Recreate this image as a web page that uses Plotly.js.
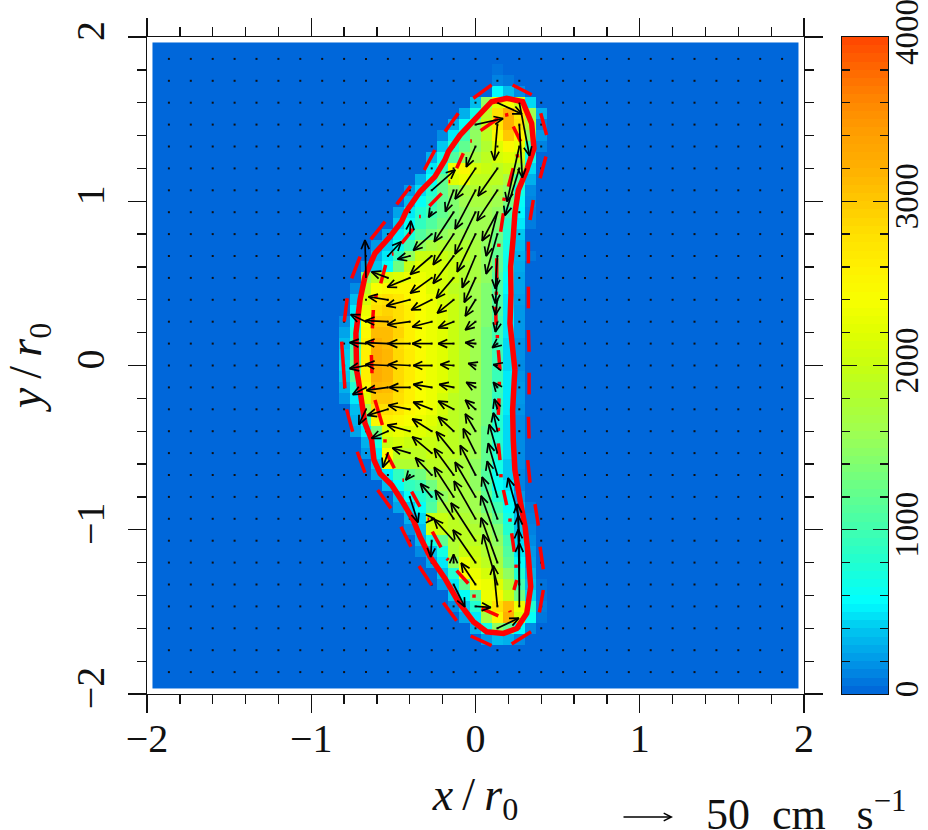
<!DOCTYPE html>
<html>
<head>
<meta charset="utf-8">
<script src="https://cdn.plot.ly/plotly-3.0.1.min.js"></script>
<style>html,body{margin:0;padding:0;background:#fff}</style>
</head>
<body>
<div id="chart" style="width:928px;height:830px"></div>
<script>
// Heat map: each row is [row index j, first column i, values...]; cell centre = index * cellSize
const cellSize = 1 / 15;
const heatBackground = 20;
const heatRowsUpper = [
[27,2,60],
[26,2,120,80],
[25,2,550,350,150],
[24,0,350,1500,2200,2400,2000,450],
[23,-1,300,700,1900,2800,3200,2700,1600,300],
[22,-2,300,600,1400,2000,2700,3200,2800,1800,100],
[21,-3,150,500,1000,1500,1900,2500,3000,2500,1500,200],
[20,-3,400,800,1200,1500,1800,2200,2500,2300,1000,120],
[19,-4,300,650,1100,1500,1700,1900,2100,2200,2000,700],
[18,-4,500,900,2300,2500,2100,2000,1900,2000,1700,450],
[17,-5,300,600,1200,2200,2300,1900,1900,1900,1700,1100,300],
[16,-6,200,450,800,1200,1500,1700,1800,1800,1700,1500,700,150],
[15,-6,350,600,900,1200,1400,1600,1700,1700,1600,1300,600,130],
[14,-7,250,500,800,1000,1200,1400,1500,1600,1600,1500,1000,550,100],
[13,-7,400,600,900,1100,1300,1400,1500,1600,1600,1400,850,500,100],
[12,-8,250,500,750,1100,1300,1500,1600,1600,1600,1600,1300,800,400],
[11,-9,200,400,650,1000,1500,1700,1800,1800,1800,1700,1500,1200,700,350],
[10,-9,300,500,900,1500,2000,2000,2000,1900,1900,1700,1500,1200,650,300,80],
[9,-10,200,400,600,1300,2000,2200,2200,2100,2000,1800,1700,1500,1200,650,280],
[8,-10,1500,1900,2100,2200,2300,2300,2200,2100,2000,1800,1700,1500,1100,600,250],
[7,-11,150,1900,2400,2500,2500,2500,2400,2200,2100,1900,1800,1600,1400,1100,550,250],
[6,-11,350,2100,2700,2800,2700,2500,2400,2300,2100,2000,1800,1600,1400,1100,500,220],
[5,-11,500,2300,2800,2900,2800,2600,2400,2300,2200,2000,1800,1600,1400,1100,500,200],
[4,-12,150,600,2400,3000,3000,2800,2600,2400,2300,2200,2000,1800,1600,1400,1000,500,200],
[3,-12,250,800,2500,3100,3100,2900,2600,2400,2300,2200,2000,1800,1600,1300,1000,500,200],
[2,-12,350,1000,2600,3200,3100,2800,2600,2400,2300,2200,2000,1800,1600,1300,950,450,170],
[1,-12,400,1100,2600,3250,3150,2850,2650,2450,2300,2200,2000,1800,1600,1300,950,450,170],
[0,-12,450,1200,2600,3250,3150,2850,2650,2450,2300,2200,2000,1800,1600,1300,950,450,150]
];
const heatRowsLower = [
[-1,-12,400,1100,2600,3250,3150,2850,2650,2450,2300,2200,2000,1800,1600,1300,950,500,180],
[-2,-12,300,800,2500,3150,3100,2850,2600,2400,2300,2200,2000,1800,1600,1300,950,500,200],
[-3,-12,200,500,2200,3000,3000,2800,2600,2400,2300,2100,1900,1800,1600,1300,900,500,200],
[-4,-11,350,1600,2800,2800,2700,2500,2400,2300,2100,1900,1800,1600,1300,850,500,180],
[-5,-11,300,1000,2500,2600,2500,2400,2300,2200,2000,1900,1800,1600,1300,800,450,150],
[-6,-11,250,500,1300,2200,2300,2200,2200,2100,2000,1900,1800,1600,1200,800,450,150],
[-7,-10,300,700,2000,2100,2000,2000,2000,1900,1900,1800,1600,1200,800,450,150],
[-8,-10,200,500,2400,1900,1900,1900,2000,1900,1900,1800,1600,1200,800,450,150],
[-9,-9,400,2400,1800,1800,1800,1900,1900,1800,1700,1500,1200,700,400,150],
[-10,-9,250,500,900,1200,1300,1600,1800,1800,1700,1500,1100,650,400,130],
[-11,-8,350,600,900,1000,1300,1700,1700,1700,1500,1100,600,500,120],
[-12,-7,350,600,800,1000,1500,1700,1700,1600,1200,800,550,200],
[-13,-7,250,400,600,1100,1700,1700,1700,1600,1300,1000,600,300,80],
[-14,-6,300,450,2000,2000,1900,1800,1700,1500,1200,700,350,100],
[-15,-6,150,350,2100,2000,1900,1900,1800,1600,1400,800,400,120],
[-16,-5,300,700,1200,1800,1900,1900,1700,1500,1000,450,150],
[-17,-5,150,350,700,1800,2000,2000,1800,1600,1100,500,200],
[-18,-4,250,500,1500,2300,2100,1900,1700,1200,600,220],
[-19,-3,350,800,2400,2300,2100,1900,1500,800,300],
[-20,-3,200,500,1200,2400,2300,2200,1800,1000,350,60],
[-21,-2,400,600,1200,2300,2500,2000,1300,450,70],
[-22,-2,150,400,800,2200,2800,3100,2300,800,100],
[-23,-1,250,500,1700,2500,3200,2100,600,80],
[-24,0,300,700,1500,1200,550,150],
[-25,1,200,350,300,150]
];

// Velocity field: [column k, row m, u, v]; tail at index * gridStep, u and v in cm/s
const gridStep = 2 / 15;
const gridIndex = [-14,-13,-12,-11,-10,-9,-8,-7,-6,-5,-4,-3,-2,-1,0,1,2,3,4,5,6,7,8,9,10,11,12,13,14];
const quiverUpper = [
[1,12,24,-11],[2,12,10,-52],
[0,11,27,6],[1,11,-3,-35],[2,11,3,-52],
[0,10,-9,-20],[2,10,-12,-54],
[0,9,-20,-30],[1,9,-19,-27],[2,9,-14,-46],
[-2,8,23,20],[-1,8,-8,-21],[0,8,-20,-38],[1,8,-20,-30],
[-2,7,-3,-5],[-1,7,-19,-29],[0,7,-20,-41],[1,7,-15,-28],[1,7,-11,-43],
[-3,6,1,13],[-2,6,-18,-16],[-1,6,-20,-30],[0,6,-18,-37],[1,6,-11,-39],
[-4,5,13,14],[-3,5,-12,-3],[-2,5,-21,-18],[-1,5,-20,-27],[0,5,-13,-31],[1,5,-2,-32],
[-5,4,-1,37],[-4,4,-16,6],[-3,4,-22,-9],[-2,4,-21,-15],[-1,4,-17,-20],[0,4,-11,-24],[1,4,-2,-25],
[-4,3,-19,3],[-3,3,-23,-6],[-2,3,-20,-10],[-1,3,-16,-13],[0,3,-10,-16],[1,3,-2,-15],
[-5,2,-15,7],[-4,2,-22,1],[-3,2,-22,-3],[-2,2,-19,-5],[-1,2,-15,-6],[0,2,-10,-8],[1,2,-2,-10],
[-5,1,-16,1],[-4,1,-22,1],[-3,1,-21,0],[-2,1,-19,0],[-1,1,-15,0],[0,1,-10,1],[1,1,-5,-4],
[-5,0,-16,-3],[-4,0,-22,1],[-3,0,-21,1],[-2,0,-18,0],[-1,0,-13,1],[0,0,-7,2],[1,0,-4,1]
];
const quiverLower = [
[-5,-1,-13,-7],[-4,-1,-21,-3],[-3,-1,-20,0],[-2,-1,-18,3],[-1,-1,-14,3],[0,-1,-9,5],[1,-1,-4,5],
[-5,-2,-7,-15],[-4,-2,-20,-6],[-3,-2,-21,4],[-2,-2,-18,7],[-1,-2,-15,8],[0,-2,-10,9],[1,-2,-3,10],
[-4,-3,-16,-7],[-3,-3,-22,6],[-2,-3,-19,12],[-1,-3,-15,14],[0,-3,-10,17],[1,-3,-4,18],
[-4,-4,-5,-14],[-3,-4,-17,5],[-2,-4,-19,16],[-1,-4,-17,21],[0,-4,-12,24],[1,-4,-8,28],
[-3,-5,-4,-5],[-2,-5,-16,17],[-1,-5,-19,26],[0,-5,-15,29],[1,-5,-9,31],
[-3,-6,8,-25],[-2,-6,-11,13],[-1,-6,-19,29],[0,-6,-20,34],[1,-6,-10,35],
[-2,-7,3,0],[-1,-7,-18,28],[0,-7,-21,37],[1,-7,-15,41],[2,-7,-11,40],
[-2,-8,-1,-16],[-1,-8,-19,21],[0,-8,-24,37],[1,-8,-16,44],[2,-8,-2,36],
[-1,-9,0,8],[0,-9,-22,32],[1,-9,-16,44],[2,-9,-1,46],
[-1,-10,11,-22],[0,-10,-14,21],[1,-10,-14,49],[2,-10,-1,54],
[0,-11,15,-1],[1,-11,-4,40],[2,-11,0,62],
[1,-12,21,10]
];
const velocityScale = 0.00621;   // axis units per cm/s, from the key arrow

// Contours
const solidX = [.240,.226,.210,.216,.214,.230,.240,.261,.312,.356,.342,.287,.190,.098,.007,-.094,-.165,-.186,-.247,-.338,-.423,-.450,-.521,-.612,-.673,-.703,-.728,-.724,-.713,-.693,-.673,-.632,-.618,-.581,-.510,-.439,-.379,-.338,-.277,-.186,-.105,-.013,.068,.170,.251,.312,.336,.322,.302,.271,.240,.230,.226,.236,.240];
const solidY = [-.027,.115,.257,.439,.602,.784,.926,1.068,1.190,1.322,1.474,1.606,1.627,1.606,1.515,1.403,1.302,1.251,1.150,1.058,.937,.876,.784,.683,.541,.399,.196,-.027,-.088,-.230,-.352,-.454,-.576,-.657,-.728,-.839,-.941,-1.042,-1.164,-1.296,-1.438,-1.560,-1.621,-1.631,-1.601,-1.509,-1.347,-1.164,-.982,-.819,-.636,-.454,-.271,-.088,-.027];
const outerX = [.326,.322,null,.332,.352,null,.322,.322,null,.322,.322,null,.393,.429,null,.433,.397,null,.342,.226,null,.098,-.013,null,-.105,-.186,null,-.247,-.312,null,-.395,-.480,null,-.551,-.638,null,-.703,-.754,null,-.781,-.799,null,-.815,-.809,-.795,null,-.785,-.748,null,-.720,-.673,null,-.596,-.515,null,-.454,-.393,null,-.344,-.267,null,-.196,-.115,null,-.029,.098,null,.220,.338,null,.413,.389,null,.413,.393,null,.383,.362,null,.332,.318,null,.326,.322,null,.326,.326];
const outerY = [.084,.216,null,.886,1.008,null,.754,.622,null,.480,.348,null,1.140,1.272,null,1.403,1.536,null,1.648,1.708,null,1.708,1.627,null,1.536,1.424,null,1.312,1.190,null,1.093,.981,null,.876,.768,null,.663,.531,null,.409,.267,null,.145,.033,-.139,null,-.267,-.403,null,-.525,-.653,null,-.758,-.870,null,-.982,-1.103,null,-1.221,-1.337,null,-1.444,-1.554,null,-1.647,-1.706,null,-1.696,-1.621,null,-1.367,-1.503,null,-1.241,-1.103,null,-.975,-.844,null,-.714,-.576,null,-.444,-.312,null,-.176,-.044];
const innerX = [.139,.031,null,.180,.200,null,.230,.275,null,.253,.257,null,.230,.200,null,.176,.172,null,.170,.153,null,.143,.141,null,.129,.129,null,.127,.127,null,.123,.125,null,.133,.133,null,.139,.149,null,.145,.145,null,.143,.139,null,.139,.139,null,.139,.149,null,.155,.155,null,.170,.190,null,.210,.210,null,.220,.236,null,.247,.247,null,.251,.234,null,.208,.212,null,.139,.037,null,-.009,-.009,null,-.044,-.115,null,-.175,-.165,null,-.210,-.263,null,-.292,-.282,null,-.338,-.389,null,-.445,-.435,null,-.494,-.541,null,-.551,-.551,null,-.567,-.612,null,-.622,-.622,null,-.630,-.634,null,-.628,-.628,null,-.628,-.622,null,-.606,-.606,null,-.577,-.547,null,-.509,-.499,null,-.450,-.379,null,-.343,-.333,null,-.281,-.206,null,-.164,-.154,null,-.115,-.074,null,-.032,-.022];
const innerY = [1.505,1.430,null,1.524,1.528,null,1.455,1.363,null,1.286,1.266,null,1.201,1.089,null,1.022,1.002,null,.927,.815,null,.742,.722,null,.653,.521,null,.450,.430,null,.358,.247,null,.186,.166,null,.094,-.027,null,-.099,-.119,null,-.200,-.301,null,-.379,-.399,null,-.474,-.576,null,-.661,-.681,null,-.758,-.850,null,-.931,-.951,null,-1.022,-1.134,null,-1.212,-1.232,null,-1.306,-1.367,null,-1.492,-1.502,null,-1.524,-1.479,null,-1.394,-1.414,null,-1.327,-1.249,null,-1.175,-1.185,null,-1.107,-1.012,null,-.936,-.936,null,-.860,-.768,null,-.698,-.698,null,-.626,-.535,null,-.449,-.469,null,-.362,-.210,null,-.129,-.149,null,-.047,.064,null,.135,.155,null,.226,.338,null,.433,.413,null,.500,.612,null,.679,.679,null,.744,.831,null,.907,.907,null,.971,1.048,null,1.120,1.120,null,1.201,1.292,null,1.367,1.367];

// Colour scale and colour-bar levels
const colorStops = [[0,'#0062d8'],[.05,'#0098e8'],[.1,'#00c8f0'],[.14,'#00ffff'],[.2,'#20ffd0'],[.25,'#40ffb0'],[.3,'#60ff90'],[.35,'#80ff70'],[.4,'#a0ff50'],[.45,'#b0ff30'],[.5,'#c8ff10'],[.55,'#e0ff00'],[.6,'#f8ff00'],[.65,'#fff000'],[.7,'#ffe000'],[.75,'#ffc800'],[.8,'#ffb000'],[.85,'#ffa000'],[.9,'#ff8800'],[.95,'#ff6800'],[1,'#ff4400']];
const barLevels = [25,75,125,175,225,275,325,375,425,475,525,575,625,675,725,775,825,875,925,975,1025,1075,1125,1175,1225,1275,1325,1375,1425,1475,1525,1575,1625,1675,1725,1775,1825,1875,1925,1975,2025,2075,2125,2175,2225,2275,2325,2375,2425,2475,2525,2575,2625,2675,2725,2775,2825,2875,2925,2975,3025,3075,3125,3175,3225,3275,3325,3375,3425,3475,3525,3575,3625,3675,3725,3775,3825,3875,3925,3975];

const FONT = '"Liberation Serif", serif';
const INK = '#111111';

// Build heat grid
const cols = []; for (let i = -29; i <= 29; i++) cols.push(i);
const z = cols.map(() => cols.map(() => heatBackground));
heatRowsUpper.concat(heatRowsLower).forEach(r => {
  r.slice(2).forEach((v, n) => { z[r[0] + 29][r[1] + n + 29] = v; });
});

// Arrow polylines
function addArrow(xs, ys, x0, y0, dx, dy) {
  const L = Math.hypot(dx, dy); if (!L) return;
  const hl = 0.06, c = Math.cos(0.42), s = Math.sin(0.42);
  const ux = dx / L, uy = dy / L, tx = x0 + dx, ty = y0 + dy;
  xs.push(x0, tx, null, tx - hl * (ux * c - uy * s), tx, tx - hl * (ux * c + uy * s), null);
  ys.push(y0, ty, null, ty - hl * (uy * c + ux * s), ty, ty - hl * (uy * c - ux * s), null);
}
const qx = [], qy = [];
quiverUpper.concat(quiverLower).forEach(a => addArrow(qx, qy, a[0] * gridStep, a[1] * gridStep, a[2] * velocityScale, a[3] * velocityScale));
const dotX = [], dotY = [];
gridIndex.forEach(a => gridIndex.forEach(b => { dotX.push(a * gridStep); dotY.push(b * gridStep); }));

const traces = [
  {type:'heatmap', x:cols.map(i => i * cellSize), y:cols.map(i => i * cellSize), z:z, zmin:0, zmax:4000, colorscale:colorStops, showscale:false, hoverinfo:'skip'},
  {type:'scatter', mode:'markers', x:dotX, y:dotY, marker:{symbol:'square', size:2, color:'#111'}, hoverinfo:'skip'},
  {type:'scatter', mode:'lines', x:innerX, y:innerY, line:{color:'#ff0000', width:3.5}, hoverinfo:'skip'},
  {type:'scatter', mode:'lines', x:outerX, y:outerY, line:{color:'#ff0000', width:3.5}, hoverinfo:'skip'},
  {type:'scatter', mode:'lines', x:solidX, y:solidY, line:{color:'#ff0000', width:5.5}, hoverinfo:'skip'},
  {type:'scatter', mode:'lines', x:qx, y:qy, line:{color:'#000', width:1.7}, hoverinfo:'skip'},
  {type:'heatmap', xaxis:'x2', yaxis:'y2', x:[0.5], y:barLevels, z:barLevels.map(v => [v]), zmin:0, zmax:4000, colorscale:colorStops, showscale:false, hoverinfo:'skip'}
];

const mainAxis = {
  range:[-2,2], dtick:1, tick0:-2, ticks:'outside', ticklen:18, tickwidth:1.3, tickcolor:INK,
  showline:true, linecolor:INK, linewidth:1.3, mirror:'allticks', showgrid:false, zeroline:false,
  minor:{dtick:0.2, tick0:-2, ticks:'outside', ticklen:9, tickwidth:1.3, tickcolor:INK, showgrid:false},
  tickfont:{family:FONT, size:40, color:INK}
};
const layout = {
  width:928, height:830, margin:{l:147, r:40, t:37, b:136, pad:0},
  paper_bgcolor:'#fff', plot_bgcolor:'#fff', showlegend:false,
  xaxis:Object.assign({}, mainAxis, {domain:[0,657/741], anchor:'y', ticklabelstandoff:-9,
    title:{text:'<i>x</i>\u2009/\u2009<i>r</i><sub>0</sub>', font:{family:FONT, size:46, color:INK}, standoff:17}}),
  yaxis:Object.assign({}, mainAxis, {domain:[0,1], anchor:'x', tickangle:-90, ticklabelstandoff:8,
    title:{text:'<i>y</i>\u2009/\u2009<i>r</i><sub>0</sub>', font:{family:FONT, size:46, color:INK}, standoff:20}}),
  xaxis2:{domain:[695/741,1], range:[0,1], anchor:'y2', showticklabels:false, ticks:'', showline:true, linecolor:INK, linewidth:1.3, mirror:true, showgrid:false, zeroline:false},
  yaxis2:{domain:[0,1], range:[0,4000], anchor:'x2', side:'right', dtick:1000, tick0:0, ticks:'inside', ticklen:15, tickwidth:1.3, tickcolor:INK,
    showline:true, linecolor:INK, linewidth:1.3, mirror:'allticks', showgrid:false, zeroline:false, tickangle:-90, ticklabelstandoff:-11, ticklabeloverflow:'allow',
    minor:{dtick:200, tick0:0, ticks:'inside', ticklen:8, tickwidth:1.3, tickcolor:INK, showgrid:false},
    tickfont:{family:FONT, size:33, color:INK}},
  annotations:[
    {xref:'paper', yref:'paper', x:557/741, y:(694-812)/657, xanchor:'left', yanchor:'middle', showarrow:false,
     text:'50&nbsp;&nbsp;cm&nbsp;&nbsp;\u2009s<sup>\u22121</sup>', font:{family:FONT, size:44, color:INK}},
    {xref:'paper', yref:'paper', x:526/741, y:(694-817)/657, text:'', showarrow:true, axref:'pixel', ayref:'pixel', ax:-51, ay:0,
     arrowhead:5, arrowsize:1, arrowwidth:1.5, arrowcolor:'#000', standoff:0, startstandoff:0}
  ]
};
Plotly.newPlot('chart', traces, layout, {displayModeBar:false, staticPlot:true});
</script>
</body>
</html>
